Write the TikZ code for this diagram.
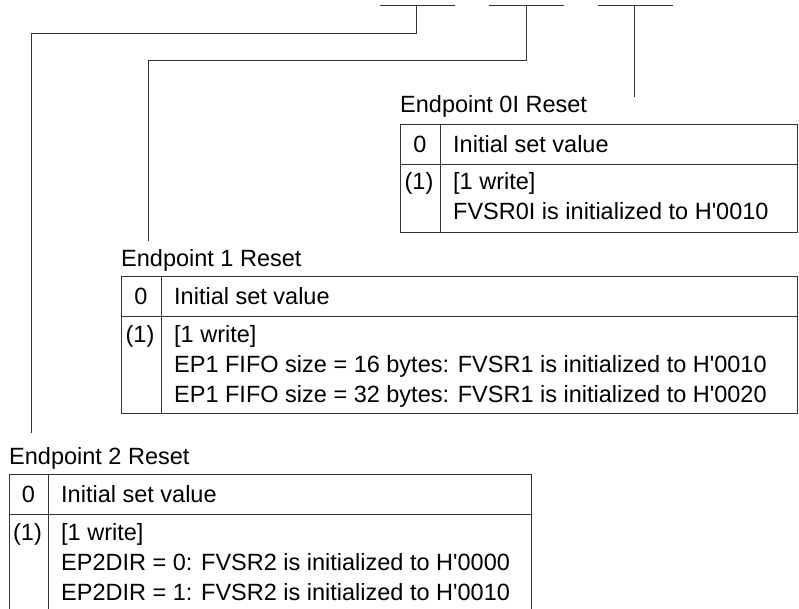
\documentclass[tikz,border=0pt]{standalone}
\usepackage{fontspec}
\setmainfont{Liberation Sans}

\begin{document}
\begin{tikzpicture}[x=1pt, y=-1pt,
  txt/.style={inner sep=0pt, anchor=base west, font=\fontsize{23.5}{30}\selectfont},
  num/.style={inner sep=0pt, anchor=base, font=\fontsize{23.5}{30}\selectfont},
  rule/.style={line width=0.9pt, black!80}]

\useasboundingbox (0,0) rectangle (799,609);

% register bits at the top
\draw[rule] (380,5) -- (455,5);
\draw[rule] (489,5) -- (564,5);
\draw[rule] (598,5) -- (673,5);
\coordinate (b2) at (416,5);
\coordinate (b1) at (526,5);
\coordinate (b0) at (634,5);

% free ends above the labels
\coordinate (e0) at (634,97);
\coordinate (e1) at (148,241);
\coordinate (e2) at (31,433);

% leader lines
\draw[rule] (b0) -- (e0);
\draw[rule] (b1) -- ++(0,55) -| (e1);
\draw[rule] (b2) -- ++(0,28) -| (e2);

% endpoint 0I table
\node[txt] (lab0) at (400,113) {Endpoint 0I Reset};
\draw[rule] (400,124) rectangle (797,232);
\draw[rule] (440,124) -- (440,232);
\draw[rule] (400,164) -- (797,164);
\node[num] (v00) at (420,152.5) {0};
\node[txt] (t00) at (453,152.5) {Initial set value};
\node[num] (v01) at (419,190) {(1)};
\node[txt] (t01) at (453,190) {[1 write]};
\node[txt] (t02) at (453,220) {FVSR0I is initialized to H\textquotesingle0010};

% endpoint 1 table
\node[txt] (lab1) at (121,266) {Endpoint 1 Reset};
\draw[rule] (121,276) rectangle (797,413);
\draw[rule] (161,276) -- (161,413);
\draw[rule] (121,316) -- (797,316);
\node[num] (v10) at (141,304.5) {0};
\node[txt] (t10) at (174,304.5) {Initial set value};
\node[num] (v11) at (140,342) {(1)};
\node[txt] (t11) at (174,342) {[1 write]};
\node[txt] (t12) at (174,372) {EP1 FIFO size = 16 bytes: FVSR1 is initialized to H\textquotesingle0010};
\node[txt] (t13) at (174,402) {EP1 FIFO size = 32 bytes: FVSR1 is initialized to H\textquotesingle0020};

% endpoint 2 table (runs off the bottom)
\node[txt] (lab2) at (9,464) {Endpoint 2 Reset};
\draw[rule] (9,609) -- (9,474) -- (531,474) -- (531,609);
\draw[rule] (48,474) -- (48,609);
\draw[rule] (9,514) -- (531,514);
\node[num] (v20) at (28.5,502.5) {0};
\node[txt] (t20) at (61,502.5) {Initial set value};
\node[num] (v21) at (27.5,540) {(1)};
\node[txt] (t21) at (61,540) {[1 write]};
\node[txt] (t22) at (61,570) {EP2DIR = 0: FVSR2 is initialized to H\textquotesingle0000};
\node[txt] (t23) at (61,600) {EP2DIR = 1: FVSR2 is initialized to H\textquotesingle0010};

\end{tikzpicture}
\end{document}
